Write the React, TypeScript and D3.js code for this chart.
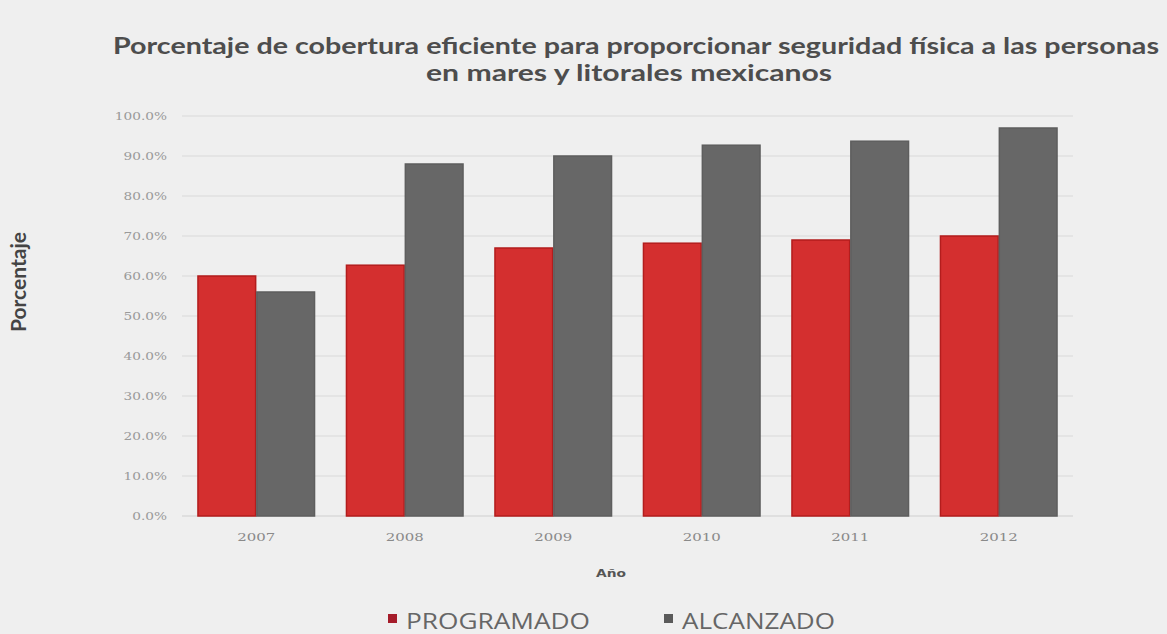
import React from "react";
import * as d3 from "d3";

const years = ["2007", "2008", "2009", "2010", "2011", "2012"];
const programado = [60.0, 62.7, 67.0, 68.2, 69.0, 70.0];
const alcanzado = [56.0, 88.0, 90.0, 92.7, 93.7, 97.0];
const yTicks = [0, 10, 20, 30, 40, 50, 60, 70, 80, 90, 100];
const seriesNames = ["PROGRAMADO", "ALCANZADO"];
const seriesColors = ["#d42f2f", "#676767"];
const seriesStroke = ["#b31d1d", "#5e5e5e"];

const W = 1167;
const H = 634;
const plot = { left: 182, right: 1073, top: 116, bottom: 516 };

export default function App() {
  const x = d3
    .scaleBand<string>()
    .domain(years)
    .range([plot.left, plot.right])
    .paddingInner(0.215)
    .paddingOuter(0.1075);
  const xs = d3.scaleBand<string>().domain(seriesNames).range([0, x.bandwidth()]).paddingInner(0.02);
  const y = d3.scaleLinear().domain([0, 100]).range([plot.bottom, plot.top]);
  const data = [programado, alcanzado];
  const legendPos = [
    { sx: 388, tx: 406, len: 184 },
    { sx: 664, tx: 682, len: 153 },
  ];

  return (
    <svg
      width={W}
      height={H}
      style={{ position: "absolute", left: 0, top: 0, background: "#efefef" }}
    >
      <rect x={0} y={0} width={W} height={H} fill="#efefef" />
      <g fontFamily="Lato, 'Open Sans', sans-serif" fontWeight="bold" fill="#4d4d4d" textAnchor="middle">
        <text x={636} y={54} fontSize={22} textLength={1046} lengthAdjust="spacingAndGlyphs">
          Porcentaje de cobertura eficiente para proporcionar seguridad física a las personas
        </text>
        <text x={629} y={81} fontSize={22} textLength={406} lengthAdjust="spacingAndGlyphs">
          en mares y litorales mexicanos
        </text>
      </g>
      <text
        transform={`translate(26,${282}) rotate(-90)`}
        textAnchor="middle"
        fontFamily="Lato, 'Open Sans', sans-serif"
        fontWeight="bold"
        fontSize={21}
        fill="#444"
      >
        Porcentaje
      </text>
      {yTicks.map((t) => {
        const label = t.toFixed(1) + "%";
        return (
          <g key={t}>
            <line
              x1={plot.left}
              x2={plot.right}
              y1={y(t)}
              y2={y(t)}
              stroke={t === 0 ? "#cfcfcf" : "#dadada"}
              strokeWidth={1.2}
            />
            <text
              x={167}
              y={y(t) + 4}
              textAnchor="end"
              fontFamily="'DejaVu Serif', serif"
              fontSize={11}
              fill="#9a9a9a"
              textLength={label.length * 8.7}
              lengthAdjust="spacingAndGlyphs"
            >
              {label}
            </text>
          </g>
        );
      })}
      {years.map((yr, i) => (
        <g key={yr}>
          {data.map((vals, s) => {
            const bx = (x(yr) as number) + (xs(seriesNames[s]) as number);
            return (
              <rect
                key={s}
                x={bx}
                y={y(vals[i])}
                width={xs.bandwidth()}
                height={y(0) - y(vals[i])}
                fill={seriesColors[s]}
                stroke={seriesStroke[s]}
                strokeWidth={1.5}
              />
            );
          })}
          <text
            x={(x(yr) as number) + x.bandwidth() / 2}
            y={541}
            textAnchor="middle"
            fontFamily="'DejaVu Serif', serif"
            fontSize={11}
            fill="#8a8a8a"
            textLength={38}
            lengthAdjust="spacingAndGlyphs"
          >
            {yr}
          </text>
        </g>
      ))}
      <text
        x={611}
        y={577}
        textAnchor="middle"
        fontFamily="'DejaVu Sans', sans-serif"
        fontWeight="bold"
        fontSize={11}
        fill="#555"
        textLength={30}
        lengthAdjust="spacingAndGlyphs"
      >
        Año
      </text>
      {seriesNames.map((name, s) => {
        const p = legendPos[s];
        return (
          <g key={name}>
            <rect x={p.sx} y={614} width={9} height={9} fill={s === 0 ? "#a51c2a" : "#5a5a5a"} />
            <text
              x={p.tx}
              y={629}
              fontFamily="'Open Sans', sans-serif"
              fontSize={21}
              fill="#666"
              textLength={p.len}
              lengthAdjust="spacingAndGlyphs"
            >
              {name}
            </text>
          </g>
        );
      })}
    </svg>
  );
}
